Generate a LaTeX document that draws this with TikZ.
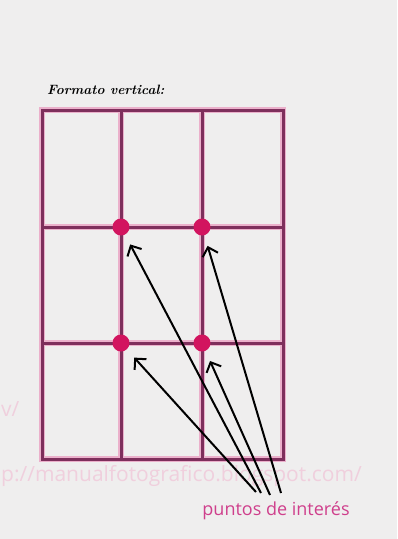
\documentclass[tikz,border=0pt]{standalone}
\usepackage{fontspec}
\setsansfont{Open Sans}
\usetikzlibrary{arrows.meta,positioning}
\definecolor{GridPlum}{HTML}{7E2F5C}
\definecolor{GridGlow}{HTML}{EBB0CB}
\definecolor{DotPink}{HTML}{D2145F}
\definecolor{LabelPink}{HTML}{CF3F8C}
\definecolor{MarkPink}{HTML}{F0CFDD}
\definecolor{Paper}{HTML}{EFEEEE}

\begin{document}
\begin{tikzpicture}[x=1pt,y=-1pt,
    glow/.style={draw=GridGlow,line width=5.4pt},
    gridline/.style={draw=GridPlum,line width=3pt},
    dot/.style={circle,fill=DotPink,inner sep=0pt,minimum size=17pt},
    arrow/.style={-{Straight Barb[length=8pt,width=16pt]},line width=2pt,shorten >=11pt},
    watermark/.style={text=MarkPink,font=\sffamily\fontsize{21}{21}\selectfont,inner sep=0pt},
    puntolabel/.style={text=LabelPink,font=\sffamily\fontsize{18}{18}\selectfont,inner sep=0pt}
  ]
    \fill[Paper] (0,0) rectangle (397,539);
    \useasboundingbox (0,0) rectangle (397,539);
    % watermark
    \node[watermark,anchor=east] (web) at (362,476) {p://manualfotografico.blogspot.com/};
    \node[watermark,anchor=west] (webcut) at (1,409) {v/};
    \node[anchor=west,inner sep=0pt,font=\fontsize{13.5}{13.5}\selectfont\bfseries\itshape] (title) at (47,90) {Formato vertical:};
    % grid
    \foreach \s in {glow,gridline} {
      \draw[\s] (42,110) rectangle (283,459);
      \draw[\s] (121,110) -- (121,459);
      \draw[\s] (202,110) -- (202,459);
      \draw[\s] (42,227) -- (283,227);
      \draw[\s] (42,343) -- (283,343);
    }
    \node[dot] (ul) at (121,227) {};
    \node[dot] (ur) at (202,227) {};
    \node[dot] (ll) at (121,343) {};
    \node[dot] (lr) at (202,343) {};
    \node[puntolabel] (puntos) at (276,511) {puntos de interés};
    \coordinate (t1) at (256,492);
    \coordinate (t2) at (261,493);
    \coordinate (t3) at (270,495);
    \coordinate (t4) at (281,493);
    \draw[arrow] (t1) -- (ll);
    \draw[arrow] (t2) -- (ul);
    \draw[arrow] (t3) -- (lr);
    \draw[arrow] (t4) -- (ur);
  \end{tikzpicture}
\end{document}
